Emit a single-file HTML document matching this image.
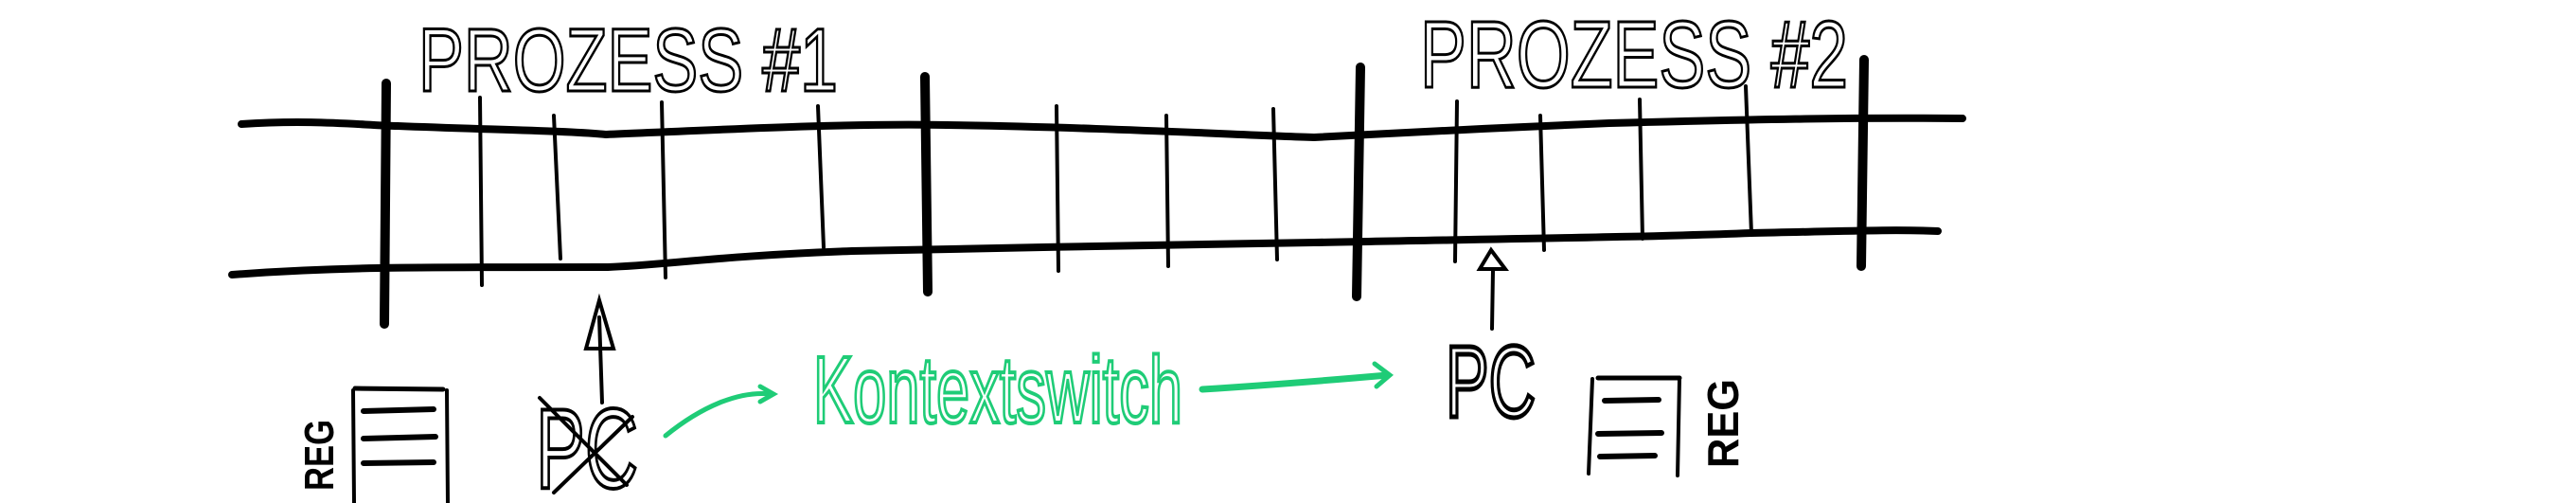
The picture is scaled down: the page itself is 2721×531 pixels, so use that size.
<!DOCTYPE html>
<html><head><meta charset="utf-8"><style>
html,body{margin:0;padding:0;background:#fff;width:2721px;height:531px;overflow:hidden}
svg{display:block}
text{font-family:"Liberation Sans",sans-serif}
</style></head><body>
<svg width="2721" height="531" viewBox="0 0 2721 531">
<g fill="none" stroke="#000" stroke-linecap="round">
 <path d="M255 131 C330 126 380 132 420 133 C520 137 600 138 640 142 C780 136 900 130 1000 132 C1150 134 1300 142 1388 145 C1480 140 1600 134 1700 130 C1850 126 1950 124 2073 125" stroke-width="8"/>
 <path d="M245 290 C350 282 420 282 642 282 C700 280 760 270 900 265 C1050 262 1250 258 1388 256 C1600 252 1750 250 1850 246 C1950 244 2000 242 2047 244" stroke-width="8"/>
 <g>
  <path d="M408 88 L406 342" stroke-width="10"/>
  <path d="M507 103 L509 301" stroke-width="4"/>
  <path d="M585 122 L592 273" stroke-width="4"/>
  <path d="M699 108 L703 293" stroke-width="4"/>
  <path d="M864 112 L870 261" stroke-width="4"/>
  <path d="M977 81 L980 308" stroke-width="10"/>
  <path d="M1116 112 L1118 286" stroke-width="4"/>
  <path d="M1232 122 L1234 281" stroke-width="4"/>
  <path d="M1345 115 L1349 274" stroke-width="4"/>
  <path d="M1437 71 L1433 313" stroke-width="10"/>
  <path d="M1539 107 L1537 276" stroke-width="4"/>
  <path d="M1627 122 L1631 264" stroke-width="4"/>
  <path d="M1732 105 L1735 252" stroke-width="4"/>
  <path d="M1844 91 L1850 247" stroke-width="4"/>
  <path d="M1969 63 L1966 281" stroke-width="10"/>
 </g>
 <g stroke-width="4">
  <path d="M636 425 L633 335"/><path d="M633 317 L619 368 L648 368 Z"/>
 </g>
 <g stroke-width="4">
  <path d="M1576 347 L1577 285"/><path d="M1575 264 L1563 284 L1590 284 Z"/>
 </g>
 <g>
  <path d="M373 412 L374 531" stroke-width="4"/><path d="M472 412 L473 531" stroke-width="4"/>
  <path d="M375 410 L468 411" stroke-width="5"/>
  <path d="M384 434 L458 432" stroke-width="6"/>
  <path d="M384 463 L460 461" stroke-width="6"/>
  <path d="M384 489 L458 488" stroke-width="6"/>
 </g>
 <g>
  <path d="M1682 400 L1678 500" stroke-width="4"/><path d="M1774 400 L1772 502" stroke-width="4"/>
  <path d="M1688 399 L1774 399" stroke-width="5"/>
  <path d="M1695 423 L1752 422" stroke-width="6"/>
  <path d="M1688 458 L1755 457" stroke-width="6"/>
  <path d="M1690 482 L1748 481" stroke-width="6"/>
 </g>
 <path d="M570 420 L662 512 M668 440 L585 520" stroke-width="4"/>
 <g stroke="#1fcc77" stroke-width="5">
  <path d="M703 460 C740 430 780 412 815 416"/><path d="M803 408 L817 416 L803 424"/>
  <path d="M1270 411 C1350 406 1420 400 1466 396" stroke-width="7"/><path d="M1452 384 L1468 396 L1454 408"/>
 </g>
</g>
<text x="442" y="96" font-size="95" textLength="443" lengthAdjust="spacingAndGlyphs" transform="translate(0,0)" fill="none" stroke="#000" stroke-width="3">PROZESS #1</text>
<text x="1500" y="92" font-size="100" textLength="452" lengthAdjust="spacingAndGlyphs" fill="none" stroke="#000" stroke-width="3">PROZESS #2</text>
<text x="566" y="515" font-size="120" textLength="108" lengthAdjust="spacingAndGlyphs" fill="none" stroke="#000" stroke-width="4">PC</text>
<text x="1527" y="440" font-size="108" textLength="95" lengthAdjust="spacingAndGlyphs" fill="none" stroke="#000" stroke-width="5">PC</text>
<text x="859" y="446" font-size="100" textLength="390" lengthAdjust="spacingAndGlyphs" fill="none" stroke="#1fcc77" stroke-width="4">Kontextswitch</text>
<text x="0" y="0" font-size="44" font-weight="bold" textLength="75" lengthAdjust="spacingAndGlyphs" transform="translate(352,518) rotate(-90)" fill="#000">REG</text>
<text x="0" y="0" font-size="46" font-weight="bold" textLength="94" lengthAdjust="spacingAndGlyphs" transform="translate(1836,494) rotate(-90)" fill="#000">REG</text>
</svg>
</body></html>
